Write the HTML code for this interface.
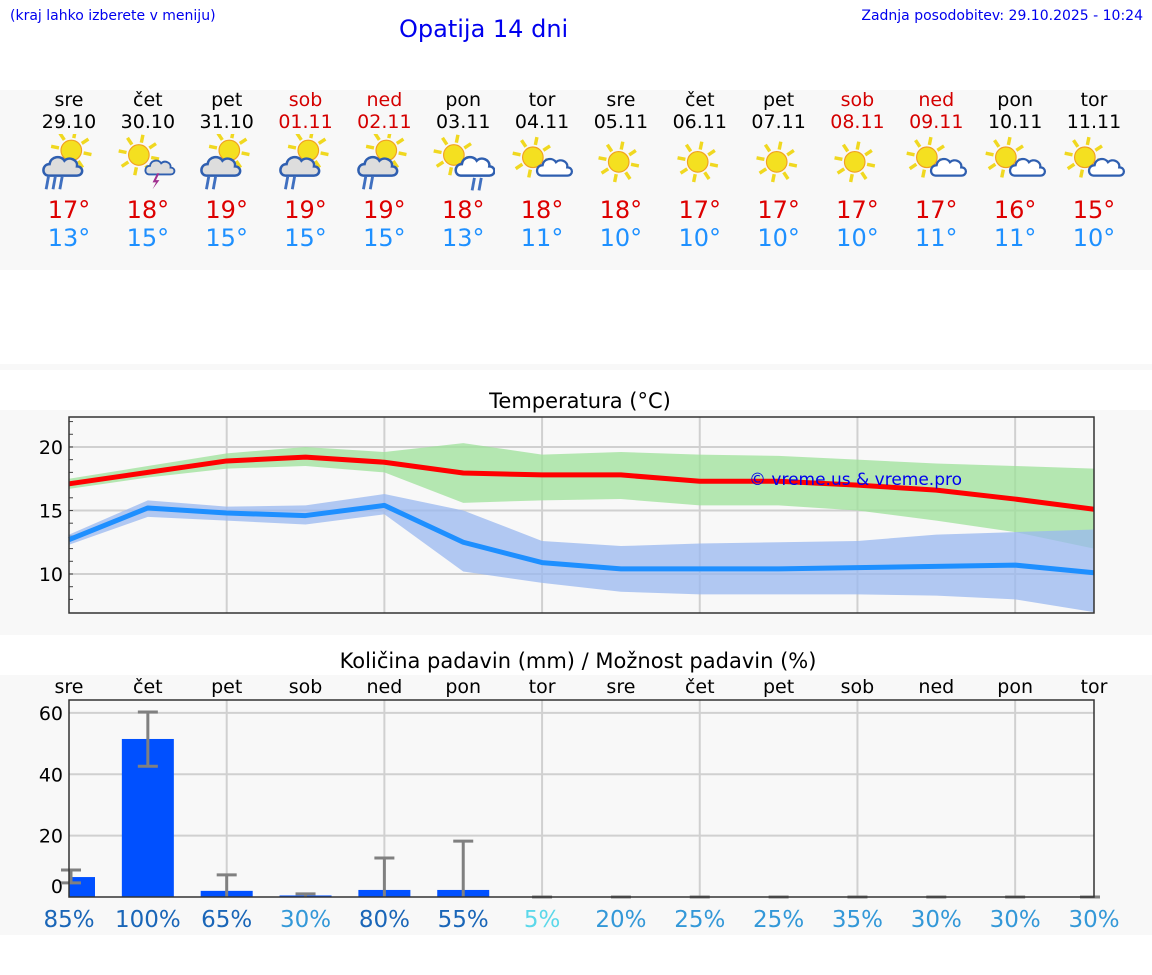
<!DOCTYPE html>
<html><head><meta charset="utf-8"><style>
body{margin:0;width:1152px;height:975px;background:#fff;font-family:"DejaVu Sans","Liberation Sans",sans-serif;position:relative;overflow:hidden}
.abs{position:absolute}
</style></head><body>
<div class="abs" style="left:10px;top:8px;font-size:14px;color:#0000ee">(kraj lahko izberete v meniju)</div>
<div class="abs" style="left:399px;top:15px;font-size:24px;color:#0000ee">Opatija 14 dni</div>
<div class="abs" style="right:9px;top:8px;font-size:14px;color:#0000ee">Zadnja posodobitev: 29.10.2025 - 10:24</div>
<div class="abs" style="left:0;top:90px;width:1152px;height:180px;background:#f8f8f8"></div>
<div class="abs" style="left:0;top:364px;width:1152px;height:6px;background:#f8f8f8"></div>
<div id="days"></div>
<svg id="ch" class="abs" style="left:0;top:0" width="1152" height="975"></svg>
<script>
const dayNames=["sre","čet","pet","sob","ned","pon","tor","sre","čet","pet","sob","ned","pon","tor"];
const dates=["29.10","30.10","31.10","01.11","02.11","03.11","04.11","05.11","06.11","07.11","08.11","09.11","10.11","11.11"];
const icons=["rain","storm","rain2","rain2","rain2","cloudrain","pc","sun","sun","sun","sun","pc","pc","pc"];
const hiT=[17,18,19,19,19,18,18,18,17,17,17,17,16,15];
const loT=[13,15,15,15,15,13,11,10,10,10,10,11,11,10];
const maxLine=[17.1,18.0,18.9,19.2,18.8,17.95,17.8,17.8,17.3,17.3,17.0,16.6,15.9,15.1];
const maxHi=[17.5,18.5,19.5,20.0,19.6,20.3,19.4,19.6,19.4,19.3,19.0,18.7,18.5,18.3];
const maxLo=[16.7,17.6,18.3,18.5,18.0,15.6,15.8,15.9,15.4,15.4,15.0,14.2,13.3,12.0];
const minLine=[12.7,15.2,14.8,14.6,15.4,12.5,10.9,10.4,10.4,10.4,10.5,10.6,10.7,10.1];
const minHi=[13.1,15.8,15.3,15.4,16.3,15.0,12.6,12.2,12.4,12.5,12.6,13.1,13.3,13.5];
const minLo=[12.3,14.5,14.2,13.9,14.7,10.2,9.3,8.6,8.4,8.4,8.4,8.3,8.0,7.0];
const tempTicks=[10,15,20];
const precip=[6.5,51.5,2,0.5,2.3,2.3,0,0,0,0,0,0,0,0];
const errHi=[8.8,60.3,7.2,1,12.7,18.2,0,0,0,0,0,0,0,0];
const errLo=[4.6,42.6,0,0,0,0,0,0,0,0,0,0,0,0];
const chance=[85,100,65,30,80,55,5,20,25,25,35,30,30,30];
const precipTicks=[0,20,40,60];

const X0=69,X1=1094,N=14;
const xs=i=>X0+i*(X1-X0)/(N-1);
const NS="http://www.w3.org/2000/svg";
const svg=document.getElementById('ch');
function el(t,a,p){const e=document.createElementNS(NS,t);for(const k in a)e.setAttribute(k,a[k]);(p||svg).appendChild(e);return e;}
function txt(s,a){const e=el('text',a);e.textContent=s;return e;}

const days=document.getElementById('days');
function iconSvg(kind){
  let s='<svg width="64" height="58" viewBox="0 0 56 50">';
  const sun=(cx,cy,r)=>{let o='';for(let k=0;k<8;k++){const a=k*Math.PI/4+0.2;o+=`<line x1="${cx+Math.cos(a)*(r+2)}" y1="${cy+Math.sin(a)*(r+2)}" x2="${cx+Math.cos(a)*(r+9)}" y2="${cy+Math.sin(a)*(r+9)}" stroke="#f0d820" stroke-width="3"/>`;}return o+`<circle cx="${cx}" cy="${cy}" r="${r}" fill="#f4e020" stroke="#f0a020" stroke-width="1"/>`;};
  const cloud=(x,y,sc,fill)=>`<path transform="translate(${x},${y}) scale(${sc})" d="M4 20 C-2 20 -2 10 5 10 C6 3 15 2 18 7 C22 3 30 6 29 12 C35 12 35 20 29 20 Z" fill="${fill}" stroke="#2f5fb0" stroke-width="2.2"/>`;
  const rain=(x,y,n)=>{let o='';for(let k=0;k<n;k++)o+=`<line x1="${x+k*6+2}" y1="${y}" x2="${x+k*6}" y2="${y+11}" stroke="#4070c0" stroke-width="2.5"/>`;return o;};
  if(kind==='sun')s+=sun(26,24,9);
  else if(kind==='pc')s+=sun(20,20,9)+cloud(24,18,0.9,'#fff');
  else if(kind==='storm')s+=sun(20,18,9)+cloud(26,20,0.75,'#ddd')+'<path d="M36 34 l-4 8 l3 0 l-3 6 l6 -8 l-3 0 l3 -6z" fill="#a03090"/>';
  else if(kind==='cloudrain')s+=sun(20,18,9)+cloud(22,16,1,'#fff')+rain(36,38,2);
  else if(kind==='rain')s+=sun(30,14,9)+cloud(6,16,1,'#ddd')+rain(8,37,3);
  else s+=sun(30,14,9)+cloud(6,16,1,'#ddd')+rain(10,37,2);
  return s+'</svg>';
}
for(let i=0;i<N;i++){
  const x=xs(i);const we=(i==3||i==4||i==10||i==11);const c=we?'#d40000':'#000';
  const d=document.createElement('div');d.className='abs';d.style.cssText=`left:${x-40}px;top:89px;width:80px;text-align:center;`;
  
  
  d.innerHTML=`<div style="font-size:19px;color:${c};line-height:22px">${dayNames[i]}</div><div style="font-size:19px;color:${c};line-height:22px">${dates[i]}</div><div style="height:62px;margin-top:1px">${iconSvg(icons[i])}</div><div style="font-size:24px;color:#dd0000;line-height:28px">${hiT[i]}°</div><div style="font-size:24px;color:#1e90ff;line-height:28px">${loT[i]}°</div>`;
  days.appendChild(d);
}

el('rect',{x:0,y:410,width:1152,height:225,fill:'#f8f8f8',});
txt('Temperatura (°C)',{x:580,y:408,'text-anchor':'middle','font-size':21,fill:'#000',});
const TY0=417,TY1=613,TMAX=22.36,TMIN=6.93;
const ty=v=>TY0+(TMAX-v)/(TMAX-TMIN)*(TY1-TY0);
for(const t of tempTicks){el('line',{x1:X0,x2:X1,y1:ty(t),y2:ty(t),stroke:'#d0d0d0','stroke-width':2});
 const l=txt(String(t),{x:63,y:ty(t)+7,'text-anchor':'end','font-size':19,fill:'#000'});}
for(let t=8;t<=22;t++)el('line',{x1:X0,x2:X0+4,y1:ty(t),y2:ty(t),stroke:'#444','stroke-width':1});
for(let i=2;i<N-1;i+=2)el('line',{x1:xs(i),x2:xs(i),y1:TY0,y2:TY1,stroke:'#d0d0d0','stroke-width':2});
function band(hi,lo,fill,name){let d='M'+hi.map((v,i)=>xs(i)+','+ty(v)).join(' L')+' L'+lo.map((v,i)=>xs(i)+','+ty(v)).reverse().join(' L')+'Z';const p=el('path',{d,fill});p.setAttribute('fill-opacity','0.75');}
function line(v,c,name){const p=el('polyline',{points:v.map((t,i)=>xs(i)+','+ty(t)).join(' '),fill:'none',stroke:c,'stroke-width':5,'stroke-linejoin':'round'});}
band(maxHi,maxLo,'#9de29a','max-temp-band');
band(minHi,minLo,'#9ab8f0','min-temp-band');
line(maxLine,'#ff0000','max-temp-line');
line(minLine,'#1e8fff','min-temp-line');
txt('© vreme.us & vreme.pro',{x:749,y:485,'font-size':17,fill:'#0000ee',});
el('rect',{x:X0,y:TY0,width:X1-X0,height:TY1-TY0,fill:'none',stroke:'#333','stroke-width':1.5});

el('rect',{x:0,y:675,width:1152,height:260,fill:'#f8f8f8',});
txt('Količina padavin (mm) / Možnost padavin (%)',{x:578,y:668,'text-anchor':'middle','font-size':21,fill:'#000',});
const PY0=700,PY1=897,PMAX=64.2;
const py=v=>PY1-v/PMAX*(PY1-PY0);
for(let i=0;i<N;i++){const l=txt(dayNames[i],{x:xs(i),y:693,'text-anchor':'middle','font-size':19,fill:'#000'});}
for(const t of precipTicks){if(t>0)el('line',{x1:X0,x2:X1,y1:py(t),y2:py(t),stroke:'#d0d0d0','stroke-width':2});
 const l=txt(String(t),{x:63,y:py(t)+7-(t==0?11:0),'text-anchor':'end','font-size':19,fill:'#000'});}
for(let i=2;i<N-1;i+=2)el('line',{x1:xs(i),x2:xs(i),y1:PY0,y2:PY1,stroke:'#d0d0d0','stroke-width':2});
for(let i=0;i<N;i++){
  const x=xs(i);let x0=x-26,x1=x+26;x0=Math.max(x0,X0);x1=Math.min(x1,X1);
  if(precip[i]>0){const b=el('rect',{x:x0,y:py(precip[i]),width:x1-x0,height:PY1-py(precip[i]),fill:'#0050ff'});}
  const ex=i==0?X0+2:(i==N-1?X1-4:x);
  const e=el('line',{x1:ex,x2:ex,y1:py(errHi[i]),y2:py(errLo[i]),stroke:'#808080','stroke-width':3});
  el('line',{x1:ex-10,x2:ex+10,y1:py(errHi[i]),y2:py(errHi[i]),stroke:'#808080','stroke-width':3});
  if(errLo[i]>0)el('line',{x1:ex-10,x2:ex+10,y1:py(errLo[i]),y2:py(errLo[i]),stroke:'#808080','stroke-width':3});
  const c=chance[i]>=50?'#1a66b8':(chance[i]>=20?'#3398d8':'#5cd8ea');
  const t=txt(chance[i]+'%',{x:x,y:927,'text-anchor':'middle','font-size':23,fill:c});
}
el('rect',{x:X0,y:PY0,width:X1-X0,height:PY1-PY0,fill:'none',stroke:'#333','stroke-width':1.5});
</script>
</body></html>
